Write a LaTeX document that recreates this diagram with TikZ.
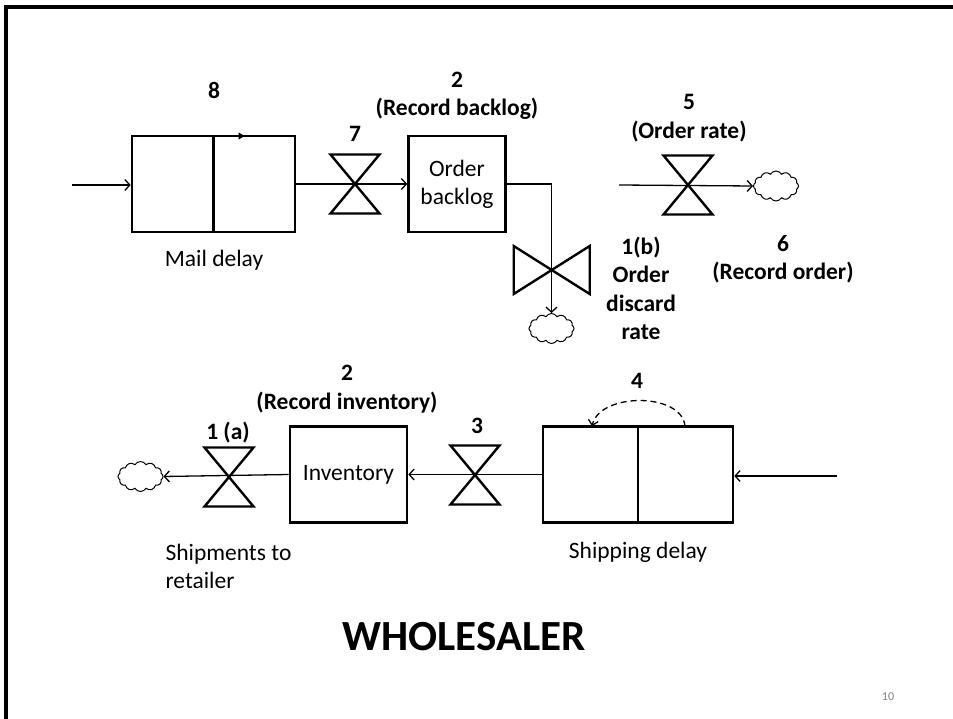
\documentclass[tikz,border=0pt]{standalone}
\usepackage{fontspec}
\setmainfont{Carlito}
\usetikzlibrary{arrows.meta,shapes.symbols,calc}
\tikzset{
  stockbox/.style={draw, line width=2.6pt, inner sep=0pt, minimum height=96pt},
  flow/.style={line width=1.3pt, -{Straight Barb[length=5pt,width=11pt,line width=1.3pt]}},
  valveline/.style={line width=2.4pt, line join=miter},
  valve/.pic={\draw[valveline] (-24.5,-29.5) -- (24.5,-29.5) -- (-24.5,29.5) -- (24.5,29.5) -- cycle;},
  hvalve/.pic={\draw[valveline] (-38,-24) -- (-38,24) -- (38,-24) -- (38,24) -- cycle;},
  sink/.style={cloud, draw, line width=1pt, cloud puffs=12, cloud puff arc=120, aspect=1.5, minimum width=45pt, minimum height=30pt, inner sep=0pt},
  lbl/.style={font=\fontsize{23.5}{28.5}\selectfont\bfseries, align=center},
  txt/.style={font=\fontsize{23.5}{28}\selectfont, align=center},
}
\begin{document}
\begin{tikzpicture}[x=1pt,y=-1pt]
\useasboundingbox (0,0) rectangle (953,719);
\fill[white] (0,0) rectangle (953,719);
% slide border
\draw[line width=4pt] (5.5,719) -- (5.5,7) -- (953,7);

% ---------- top row ----------
\node[stockbox, minimum width=163pt] (mail) at (213.5,184) {};
\draw[line width=2.6pt] (mail.north) -- (mail.south);
\draw[line width=1.3pt, -{Triangle[length=6pt,width=7pt]}] ($(mail.north)+(-23,1.3)$) -- ($(mail.north)+(31,1.3)$);
\coordinate (in1) at (72,185);
\draw[flow] (in1) -- (mail.west |- in1);

\node[stockbox, minimum width=97pt, txt] (backlog) at (457,184) {Order\\backlog};
\draw[flow] (mail.east) -- (backlog.west);
\pic at (355,184) {valve};

\node[sink] (cloud1) at (551.5,328.5) {};
\draw[flow] (backlog.east) -| (cloud1.north);
\pic at (551.7,270) {hvalve};

\coordinate (in5) at (619,185);
\node[sink] (cloud2) at (776,186) {};
\draw[flow] (in5) -- (cloud2.west);
\pic at (688,185) {valve};

% ---------- bottom row ----------
\node[stockbox, minimum width=117pt, txt] (inv) at (348.5,474.5) {Inventory};
\node[stockbox, minimum width=190pt] (ship) at (638,474.5) {};
\draw[line width=2.6pt] (ship.north) -- (ship.south);
\coordinate (in3) at (837,476);
\draw[flow] (in3) -- (ship.east |- in3);
\draw[flow] (ship.west) -- (inv.east);
\pic at (475,475) {valve};
\node[sink] (cloud3) at (140.5,476.5) {};
\draw[flow] (inv.west) -- (cloud3.east);
\pic at (229,477) {valve};
\draw[line width=1.3pt, dashed, dash pattern=on 6pt off 4pt, -{Straight Barb[length=5pt,width=10pt,line width=1.3pt]}]
  ($(ship.north)+(47,1)$) .. controls ($(ship.north)+(44,-33)$) and ($(ship.north)+(-38,-33)$) .. ($(ship.north)+(-46,1)$);

% ---------- labels ----------
\node[lbl] (l8) at (214,90) {8};
\node[lbl] (l7) at (355,134) {7};
\node[lbl] (l2a) at (457,96) {2\\(Record backlog)};
\node[lbl] (l5) at (689,118) {5\\(Order rate)};
\node[lbl] (l1b) at (641,288.5) {1(b)\\Order\\discard\\rate};
\node[lbl] (l6) at (783,259.5) {6\\(Record order)};
\node[lbl] (l2b) at (347,389) {2\\(Record inventory)};
\node[lbl] (l1a) at (228,433) {1 (a)};
\node[lbl] (l3) at (477,426) {3};
\node[lbl] (l4) at (637,381) {4};
\node[txt] (tmail) at (214,260) {Mail delay};
\node[txt, align=left, anchor=west] (tship) at (162,566) {Shipments to\\retailer};
\node[txt] (tshipd) at (638,552) {Shipping delay};
\node[font=\fontsize{43}{47}\selectfont\bfseries] (title) at (464,637) {WHOLESALER};
\node[font=\fontsize{12}{14}\selectfont, text=gray] (page) at (888,697) {10};
\end{tikzpicture}
\end{document}
